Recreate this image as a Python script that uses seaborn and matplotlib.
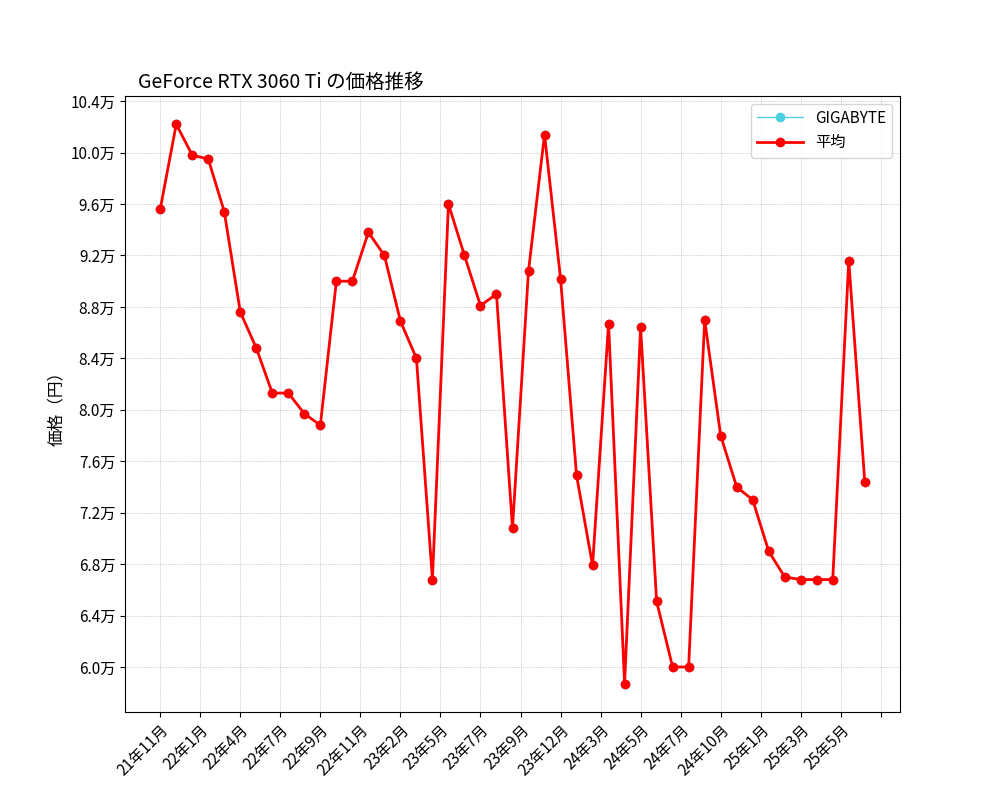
import numpy as np
import pandas as pd
import matplotlib
matplotlib.use("Agg")
import matplotlib.pyplot as plt
import seaborn as sns
from matplotlib.ticker import FuncFormatter

plt.rcParams['font.family'] = 'Noto Sans CJK JP'

prices_man = [9.56, 10.22, 9.98, 9.95, 9.54, 8.76, 8.48, 8.13, 8.13, 7.97,
              7.88, 9.00, 9.00, 9.38, 9.20, 8.69, 8.40, 6.68, 9.60, 9.20,
              8.81, 8.90, 7.08, 9.08, 10.14, 9.02, 7.49, 6.79, 8.67, 5.87,
              8.64, 6.51, 6.00, 6.00, 8.70, 7.80, 7.40, 7.30, 6.90, 6.70,
              6.68, 6.68, 6.68, 9.16, 7.44]
tick_labels = ['21年11月', '22年1月', '22年4月', '22年7月', '22年9月', '22年11月',
               '23年2月', '23年5月', '23年7月', '23年9月', '23年12月', '24年3月',
               '24年5月', '24年7月', '24年10月', '25年1月', '25年3月', '25年5月']

df = pd.DataFrame({'idx': np.arange(len(prices_man)),
                   'price': np.array(prices_man) * 10000})

fig, ax = plt.subplots(figsize=(10, 8), dpi=100)
fig.subplots_adjust(left=0.125, right=0.9, top=0.88, bottom=0.11)

sns.lineplot(data=df, x='idx', y='price', ax=ax, color='#4dd0e1', marker='o',
             linewidth=1, markersize=7, markeredgewidth=0, label='GIGABYTE')
sns.lineplot(data=df, x='idx', y='price', ax=ax, color='red', marker='o',
             linewidth=2, markersize=7, markeredgewidth=0, label='平均')

ticks = np.arange(0, 45.1, 2.5)
ax.set_xticks(ticks)
ax.set_xticklabels(tick_labels + [''], rotation=45, ha='right', rotation_mode='anchor')
ax.set_yticks(np.arange(60000, 104001, 4000))
ax.yaxis.set_major_formatter(FuncFormatter(lambda v, p: f'{v/10000:.1f}万'))
ax.set_ylim(56500, 104400)
ax.set_xlim(-2.2, 46.2)
ax.grid(True, linestyle=':', linewidth=0.5, color='gray', alpha=0.7)
ax.set_xlabel('')
ax.set_ylabel('価格（円）', fontsize=12)
ax.set_title('GeForce RTX 3060 Ti の価格推移', x=0.017, ha='left', fontsize=14)
ax.tick_params(labelsize=11)
ax.legend(loc='upper right', fontsize=11, handlelength=3)

fig.savefig('out.png')
